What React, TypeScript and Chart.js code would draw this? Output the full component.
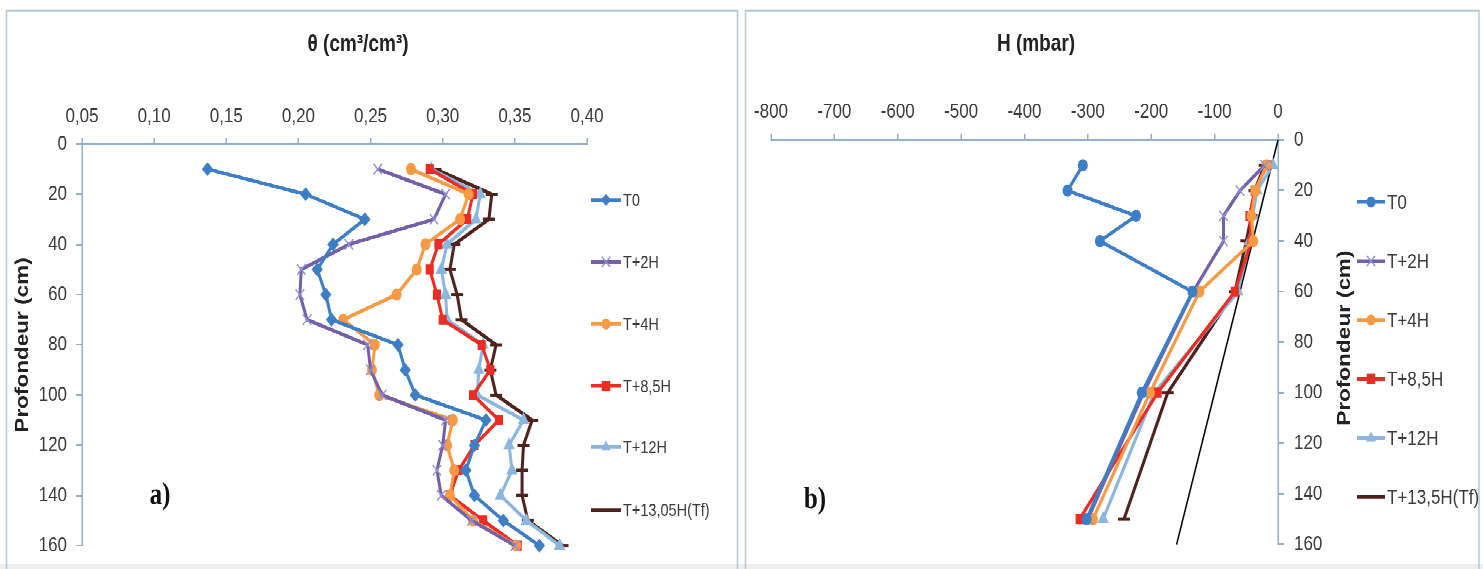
import React, { useEffect, useRef } from 'react';
import { Chart, registerables } from 'chart.js';

Chart.register(...registerables);

// ---------- DATA : panel a) water content θ (cm3/cm3) vs depth ----------
const depthsTheta = [10, 20, 30, 40, 50, 60, 70, 80, 90, 100, 110, 120, 130, 140, 150, 160];
const thetaT0 = [0.137, 0.205, 0.246, 0.224, 0.213, 0.219, 0.223, 0.269, 0.274, 0.281, 0.330, 0.322, 0.316, 0.322, 0.342, 0.367];
const thetaT2H = [0.255, 0.302, 0.294, 0.235, 0.202, 0.201, 0.206, 0.248, 0.250, 0.258, 0.302, 0.300, 0.296, 0.299, 0.320, 0.350];
const thetaT4H = [0.278, 0.318, 0.312, 0.288, 0.282, 0.268, 0.231, 0.253, 0.251, 0.256, 0.307, 0.303, 0.308, 0.305, 0.321, 0.351];
const thetaT85H = [0.291, 0.321, 0.317, 0.297, 0.291, 0.296, 0.300, 0.327, 0.333, 0.321, 0.339, 0.322, 0.311, 0.305, 0.328, 0.352];
const thetaT12H = [0.292, 0.326, 0.323, 0.303, 0.299, 0.302, 0.303, 0.328, 0.325, 0.324, 0.356, 0.346, 0.348, 0.340, 0.358, 0.381];
const thetaTf = [0.295, 0.334, 0.332, 0.308, 0.305, 0.310, 0.313, 0.337, 0.333, 0.337, 0.362, 0.356, 0.355, 0.355, 0.359, 0.383];
const thetaLabels = ['T0', 'T+2H', 'T+4H', 'T+8,5H', 'T+12H', 'T+13,05H(Tf)'];

// ---------- DATA : panel b) pressure head H (mbar) vs depth ----------
const depthsH = [10, 20, 30, 40, 60, 100, 150];
const hT0 = [-308, -332, -224, -281, -135, -215, -302];
const hT2H = [-21, -60, -86, -86, -134, -212, -300];
const hT4H = [-18, -36, -42, -39, -124, -202, -292];
const hT85H = [-17, -37, -45, -42, -68, -190, -313];
const hT12H = [-8, -33, -40, -45, -63, -195, -276];
const hTf = [-21, -37, -42, -50, -68, -174, -243];
const hydroDepths = [0, 160];
const hydroValues = [0, -160];
const hLabels = ['T0', 'T+2H', 'T+4H', 'T+8,5H', 'T+12H', 'T+13,5H(Tf)'];

// ---------- STYLE ----------
const S = 569 / 467; // vertical stretch of the whole figure
const CH = 467;      // canvas design height before stretch
const COLORS = ['#3d7fc7', '#7460a9', '#f79a43', '#ec2d23', '#8ab6e0', '#4f221d'];
const CROSS_COLOR = '#8f8ed6';
const AXIS_COLOR = '#8fb0cc';
const TEXT_COLOR = '#3a3a3a';
const FRAME_COLOR = '#b3c8d9';
const SANS = "'Liberation Sans', Arial, sans-serif";

const toPoints = (xs: number[], ys: number[]) => xs.map((x, i) => ({ x, y: ys[i] }));

type Marker = 'circle' | 'rectRot' | 'crossRot' | 'rect' | 'triangle' | 'line';

function makeDataset(label: string, values: number[], depths: number[], color: string, style: Marker, lw: number) {
  const isCross = style === 'crossRot';
  const isLine = style === 'line';
  const radius = style === 'rect' ? 5 : style === 'triangle' ? 5.5 : isCross ? 6 : isLine ? 6 : style === 'rectRot' ? 5 : 4.5;
  return {
    label,
    data: toPoints(values, depths),
    showLine: true,
    borderColor: color,
    backgroundColor: color,
    borderWidth: lw,
    pointStyle: style,
    pointRadius: radius,
    pointBackgroundColor: color,
    pointBorderColor: isCross ? CROSS_COLOR : color,
    pointBorderWidth: isCross ? 1.2 : isLine ? 2.5 : 1,
    clip: false as any,
    tension: 0,
    markerStyle: style,
  };
}

function drawMarker(ctx: CanvasRenderingContext2D, style: Marker, x: number, y: number, r: number, color: string) {
  ctx.save();
  ctx.fillStyle = color;
  ctx.strokeStyle = style === 'crossRot' ? CROSS_COLOR : color;
  ctx.lineWidth = style === 'crossRot' ? 1.2 : style === 'line' ? 2.5 : 1;
  ctx.beginPath();
  if (style === 'circle') {
    ctx.arc(x, y, r, 0, Math.PI * 2);
    ctx.fill();
  } else if (style === 'rectRot') {
    ctx.moveTo(x, y - r); ctx.lineTo(x + r, y); ctx.lineTo(x, y + r); ctx.lineTo(x - r, y); ctx.closePath();
    ctx.fill();
  } else if (style === 'rect') {
    const s = r * 0.85;
    ctx.rect(x - s, y - s, 2 * s, 2 * s);
    ctx.fill();
  } else if (style === 'triangle') {
    ctx.moveTo(x, y - r); ctx.lineTo(x + r * 0.87, y + r * 0.5); ctx.lineTo(x - r * 0.87, y + r * 0.5); ctx.closePath();
    ctx.fill();
  } else if (style === 'crossRot') {
    const d = r * 0.7;
    ctx.moveTo(x - d, y - d); ctx.lineTo(x + d, y + d);
    ctx.moveTo(x + d, y - d); ctx.lineTo(x - d, y + d);
    ctx.stroke();
  } else if (style === 'line') {
    ctx.moveTo(x - r, y); ctx.lineTo(x + r, y);
    ctx.stroke();
  }
  ctx.restore();
}

const decorPlugin = {
  id: 'decor',
  beforeDraw(chart: any, _args: any, opts: any) {
    const ctx: CanvasRenderingContext2D = chart.ctx;
    ctx.save();
    ctx.fillStyle = '#ffffff';
    ctx.fillRect(0, 0, chart.width, chart.height);
    ctx.fillStyle = '#efefef';
    ctx.fillRect(0, 564 / S, chart.width, chart.height);
    ctx.strokeStyle = FRAME_COLOR;
    ctx.lineWidth = 1.5;
    const [fx, fy, fw, fh] = opts.frame;
    ctx.strokeRect(fx, fy, fw, fh);
    ctx.restore();
  },
  afterDraw(chart: any, _args: any, opts: any) {
    const ctx: CanvasRenderingContext2D = chart.ctx;
    ctx.save();
    ctx.fillStyle = '#222';
    ctx.font = `bold 19px ${SANS}`;
    ctx.textAlign = 'center';
    ctx.textBaseline = 'middle';
    ctx.fillText(opts.xTitle.text, opts.xTitle.x, opts.xTitle.y);
    ctx.save();
    ctx.translate(opts.yTitle.x, opts.yTitle.y);
    ctx.rotate(-Math.PI / 2);
    ctx.font = `bold 18.5px ${SANS}`;
    ctx.fillText('Profondeur (cm)', 0, 0);
    ctx.restore();
    ctx.font = "bold 25px 'Liberation Serif', 'Times New Roman', serif";
    ctx.fillStyle = '#111';
    ctx.fillText(opts.tag.text, opts.tag.x, opts.tag.y);
    const lg = opts.legend;
    ctx.font = `${lg.fontSize}px ${SANS}`;
    ctx.textAlign = 'left';
    chart.data.datasets.forEach((ds: any, i: number) => {
      if (ds.inLegend === false) return;
      const y = lg.ys[i];
      ctx.strokeStyle = ds.borderColor;
      ctx.lineWidth = 3;
      ctx.beginPath();
      ctx.moveTo(lg.x0, y);
      ctx.lineTo(lg.x1, y);
      ctx.stroke();
      if (ds.markerStyle !== 'line') {
        drawMarker(ctx, ds.markerStyle, (lg.x0 + lg.x1) / 2, y, ds.pointRadius, ds.borderColor);
      }
      ctx.fillStyle = TEXT_COLOR;
      ctx.fillText(ds.label, lg.x1 + 2, y + 1);
    });
    ctx.restore();
  },
};

function axisBase(fixed: { width?: number; height?: number }, tickLength: number) {
  return {
    type: 'linear' as const,
    border: { display: true, color: AXIS_COLOR, width: 1.5 },
    grid: { display: true, drawOnChartArea: false, drawTicks: true, tickLength, color: AXIS_COLOR, lineWidth: 1.5 },
    afterFit: (scale: any) => {
      if (fixed.width !== undefined) scale.width = fixed.width;
      if (fixed.height !== undefined) scale.height = fixed.height;
    },
  };
}

const tickFont = { family: SANS, size: 17 };

function ThetaChart() {
  const ref = useRef<HTMLCanvasElement | null>(null);
  useEffect(() => {
    if (!ref.current) return;
    const values = [thetaT0, thetaT2H, thetaT4H, thetaT85H, thetaT12H, thetaTf];
    const styles: Marker[] = ['rectRot', 'crossRot', 'circle', 'rect', 'triangle', 'line'];
    const datasets = values.map((v, i) => makeDataset(thetaLabels[i], v, depthsTheta, COLORS[i], styles[i], 3));
    const chart = new Chart(ref.current, {
      type: 'scatter',
      data: { datasets: datasets as any },
      plugins: [decorPlugin as any],
      options: {
        animation: false,
        responsive: false,
        devicePixelRatio: 2,
        layout: { padding: { left: 0, top: 0, right: 153, bottom: CH - 548 / S } },
        scales: {
          x: {
            ...axisBase({ height: 144 / S }, 5),
            position: 'top',
            min: 0.05,
            max: 0.4,
            ticks: {
              stepSize: 0.05,
              padding: 7,
              color: TEXT_COLOR,
              font: tickFont,
              callback: (v: any) => Number(v).toFixed(2).replace('.', ','),
            },
          },
          y: {
            ...axisBase({ width: 82 }, 6),
            position: 'left',
            min: 0,
            max: 160,
            reverse: true,
            ticks: {
              stepSize: 20,
              padding: 9,
              color: TEXT_COLOR,
              font: tickFont,
              callback: (v: any) => String(v),
            },
          },
        } as any,
        plugins: {
          legend: { display: false },
          tooltip: { enabled: false },
          decor: {
            frame: [6.5, 10.5 / S, 731, 600],
            xTitle: { text: 'θ (cm³/cm³)', x: 358, y: 45 / S },
            yTitle: { x: 23, y: 345 / S },
            tag: { text: 'a)', x: 160, y: 496 / S },
            legend: { x0: 591, x1: 621, fontSize: 14.5, ys: [200, 262, 324, 386, 447, 510].map((v) => v / S) },
          },
        } as any,
      },
    });
    return () => chart.destroy();
  }, []);
  return <canvas ref={ref} width={740} height={CH} style={{ position: 'absolute', left: 0, top: 0, display: 'block' }} />;
}

function HeadChart() {
  const ref = useRef<HTMLCanvasElement | null>(null);
  useEffect(() => {
    if (!ref.current) return;
    const values = [hT0, hT2H, hT4H, hT85H, hT12H, hTf];
    const styles: Marker[] = ['circle', 'crossRot', 'circle', 'rect', 'triangle', 'line'];
    const datasets: any[] = values.map((v, i) => makeDataset(hLabels[i], v, depthsH, COLORS[i], styles[i], 3));
    datasets.push({
      label: 'hydrostatique',
      data: toPoints(hydroValues, hydroDepths),
      showLine: true,
      borderColor: '#000000',
      borderWidth: 1.5,
      pointRadius: 0,
      clip: false,
      inLegend: false,
    });
    const chart = new Chart(ref.current, {
      type: 'scatter',
      data: { datasets },
      plugins: [decorPlugin as any],
      options: {
        animation: false,
        responsive: false,
        devicePixelRatio: 2,
        layout: { padding: { left: 31, top: 0, right: 145, bottom: CH - 553 / S } },
        scales: {
          x: {
            ...axisBase({ height: 140 / S }, 5),
            position: 'top',
            min: -800,
            max: 0,
            ticks: {
              stepSize: 100,
              padding: 8,
              color: TEXT_COLOR,
              font: tickFont,
              callback: (v: any) => String(v),
            },
          },
          y: {
            ...axisBase({ width: 60 }, 6),
            position: 'right',
            min: 0,
            max: 160,
            reverse: true,
            ticks: {
              stepSize: 20,
              padding: 10,
              color: TEXT_COLOR,
              font: tickFont,
              callback: (v: any) => String(v),
            },
          },
        } as any,
        plugins: {
          legend: { display: false },
          tooltip: { enabled: false },
          decor: {
            frame: [5.5, 10.5 / S, 733.5, 600],
            xTitle: { text: 'H (mbar)', x: 296, y: 44 / S },
            yTitle: { x: 605, y: 338 / S },
            tag: { text: 'b)', x: 75, y: 500 / S },
            legend: { x0: 617, x1: 645, fontSize: 17, ys: [202, 261, 320, 379, 438, 497].map((v) => v / S) },
          },
        } as any,
      },
    });
    return () => chart.destroy();
  }, []);
  return <canvas ref={ref} width={743} height={CH} style={{ position: 'absolute', left: 740, top: 0, display: 'block' }} />;
}

export default function App() {
  return (
    <div style={{ position: 'absolute', left: 0, top: 0, width: 1483, height: 569, background: '#fff', overflow: 'hidden' }}>
      <div style={{ position: 'absolute', left: 0, top: 0, width: 1483, height: CH, transform: `scaleY(${S})`, transformOrigin: '0 0' }}>
        <ThetaChart />
        <HeadChart />
      </div>
    </div>
  );
}
